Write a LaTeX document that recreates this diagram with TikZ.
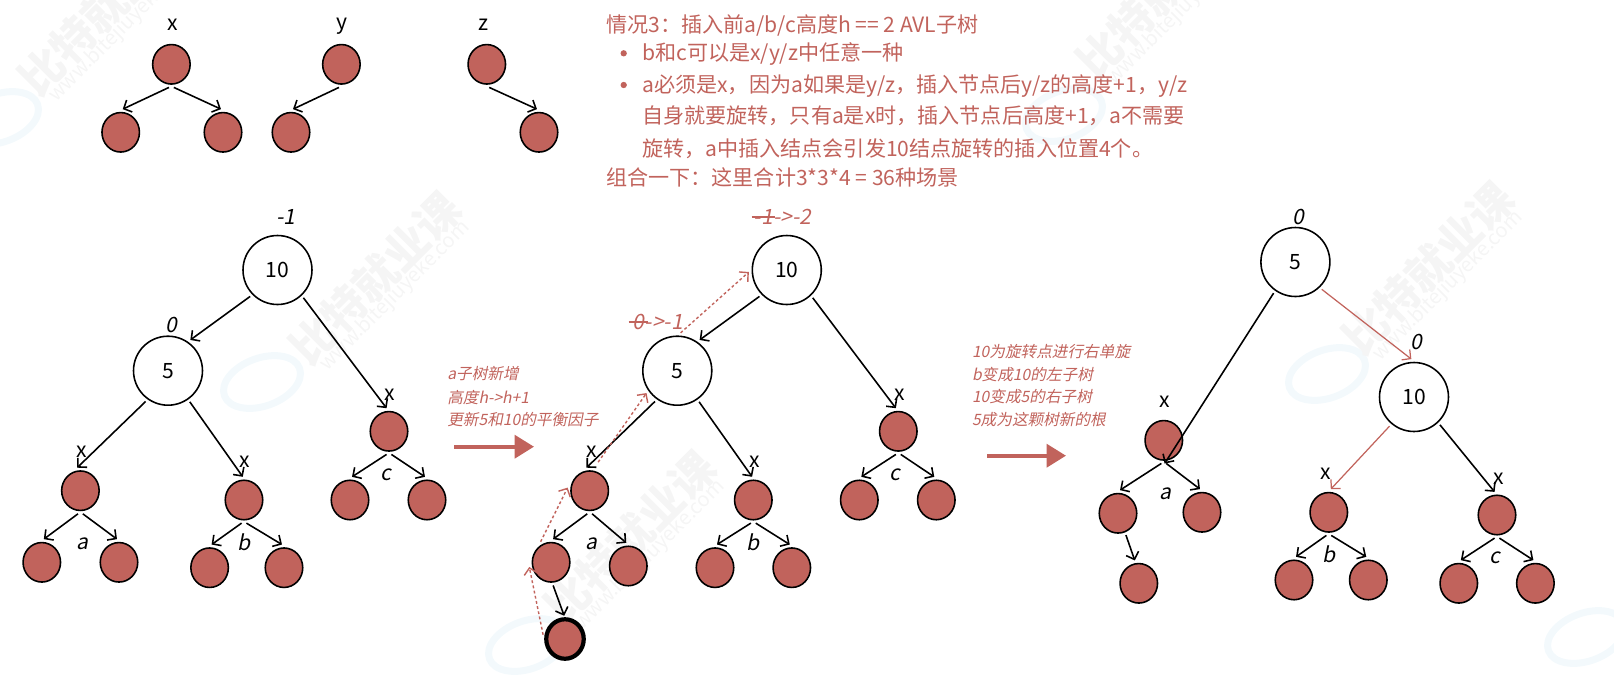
\documentclass[tikz,border=0pt]{standalone}
\usepackage{fontspec}
\setmainfont{Noto Sans CJK SC}
\newfontfamily\slantfont[FakeSlant=0.2]{Noto Sans CJK SC}
\usetikzlibrary{arrows.meta,positioning,shapes.geometric}
\definecolor{nodered}{HTML}{C1635C}
\definecolor{wmgray}{HTML}{F5F5F5}
\definecolor{ringblue}{HTML}{F3F9FC}
\tikzset{
  ball/.style={ellipse,draw,fill=nodered,line width=0.9pt,minimum width=0.75cm,minimum height=0.79cm,inner sep=0pt,outer sep=2pt},
  bigball/.style={circle,draw,fill=white,line width=0.9pt,minimum size=1.38cm,inner sep=0pt,outer sep=2pt,font=\fontsize{12}{14}\selectfont},
  link/.style={->,line width=0.9pt},
  redlink/.style={->,line width=0.7pt,draw=nodered},
  trail/.style={->,line width=0.8pt,draw=nodered,dash pattern=on 1.6pt off 1.4pt},
  stepline/.style={-{Triangle[length=11pt,width=13pt]},line width=2.2pt,draw=nodered},
  tag/.style={inner sep=0pt,font=\fontsize{12}{14}\selectfont},
  facttag/.style={inner sep=0pt,font=\fontsize{12}{14}\selectfont\slantfont},
  flipped/.style={inner sep=0pt,text=nodered,font=\fontsize{12}{14}\selectfont\slantfont},
  note/.style={anchor=base west,inner sep=0pt,text=nodered,font=\fontsize{12}{14}\selectfont},
  sidenote/.style={anchor=base west,inner sep=0pt,text=nodered,font=\fontsize{8.9}{11}\selectfont\slantfont},
  dot/.style={circle,fill=nodered,inner sep=0pt,minimum size=3.6pt},
  wmark/.style={rotate=45,inner sep=0pt,text=wmgray,font=\fontsize{25}{28}\selectfont\bfseries},
  wurl/.style={rotate=45,inner sep=0pt,text=wmgray,font=\fontsize{11.5}{13}\selectfont},
  ghost/.style={draw=ringblue,line width=4pt}
}
\newcommand{\twokids}[3]{
  \draw[link] (#1.264) -- (#2.85);
  \draw[link] (#1.276) -- (#3.95);
}
% the tree before the rotation, shared by the first two steps
\newcommand{\basetree}[4]{
  \node[bigball] (#1ten) at (277.5,270) {10};
  \node[bigball] (#1five) at (168,370.7) {5};
  \node[ball] (#1a) at (80.4,490.7) {};
  \node[ball] (#1al) at (41.8,562.3) {};
  \node[ball] (#1ar) at (119,#2) {};
  \node[ball] (#1b) at (244,500) {};
  \node[ball] (#1bl) at (#3,567.7) {};
  \node[ball] (#1br) at (#4,567.7) {};
  \node[ball] (#1c) at (389,431.3) {};
  \node[ball] (#1cl) at (350,500) {};
  \node[ball] (#1cr) at (427,500) {};
  \node[tag] (#1xa) at (82,452) {x};
  \node[tag] (#1xb) at (245,461.7) {x};
  \node[tag] (#1xc) at (390,395) {x};
  \node[facttag] (#1la) at (82,543.3) {a};
  \node[facttag] (#1lb) at (244,542) {b};
  \node[facttag] (#1lc) at (386,474.3) {c};
  \draw[link] (#1ten.224) -- (#1five.54);
  \draw[link] (#1ten.-47) -- (#1c.96);
  \draw[link] (#1five.234) -- (#1a.98);
  \draw[link] (#1five.-55) -- (#1b.93);
  \twokids{#1a}{#1al}{#1ar}
  \twokids{#1b}{#1bl}{#1br}
  \twokids{#1c}{#1cl}{#1cr}
}
\begin{document}
\begin{tikzpicture}[x=0.02cm,y=-0.02cm,>={Straight Barb[length=3.6pt,width=7.5pt]}]
  \useasboundingbox (0,0) rectangle (1614,674);
  % faint marks behind everything
  \foreach \rx/\ry in {0/118,262/382,527/645,1064/115,1327/374,1586/637} {
    \draw[ghost,rotate around={20:(\rx,\ry)}] (\rx,\ry) ellipse (40 and 24);
  }
  \foreach \wx/\wy [count=\i] in {104/9,375/278,630/537,1162/-8,1428/268} {
    \node[wmark] (wm\i) at (\wx,\wy) {比特就业课};
    \node[wurl] (url\i) at (\wx+20,\wy+18) {www.bitejiuyeke.com};
  }
  % the three shapes of a subtree
  \node[ball] (xroot) at (171.4,64.3) {};
  \node[ball] (xl) at (120.7,132.3) {};
  \node[ball] (xr) at (223,132.3) {};
  \node[ball] (yroot) at (341.4,64.3) {};
  \node[ball] (yl) at (291,132.3) {};
  \node[ball] (zroot) at (486.8,64.3) {};
  \node[ball] (zr) at (539,132.3) {};
  \node[tag] (xname) at (172.5,25) {x};
  \node[tag] (yname) at (342,26) {y};
  \node[tag] (zname) at (484,25) {z};
  \twokids{xroot}{xl}{xr}
  \draw[link] (yroot.264) -- (yl.85);
  \draw[link] (zroot.276) -- (zr.95);
  % case text
  \node[note] (case) at (606,32) {情况3：插入前a/b/c高度h == 2 AVL子树};
  \node[dot] (dota) at (623.7,53.3) {};
  \node[note] (linea) at (642,60.5) {b和c可以是x/y/z中任意一种};
  \node[dot] (dotb) at (623.7,85) {};
  \node[note] (lineb) at (642,92.5) {a必须是x，因为a如果是y/z，插入节点后y/z的高度+1，y/z};
  \node[note] (linec) at (642,123.5) {自身就要旋转，只有a是x时，插入节点后高度+1，a不需要};
  \node[note] (lined) at (642,156) {旋转，a中插入结点会引发10结点旋转的插入位置4个。};
  \node[note] (linee) at (606,185) {组合一下：这里合计3*3*4 = 36种场景};
  % before the insert
  \basetree{p}{562.3}{209.6}{284}
  \node[facttag] (pfone) at (286,217) {-1};
  \node[facttag] (pfzero) at (171,325) {0};
  % after the insert
  \begin{scope}[shift={(509.3,0)}]
    \basetree{q}{566}{205.7}{282.5}
    \node[ball,line width=2.4pt] (qnew) at (55.7,639) {};
    \draw[link] (qal.-85) -- (qnew.92);
    \node[flipped] (qfone) at (254,217) {-1};
    \node[flipped,right=0pt of qfone] (qftwo) {->-2};
    \node[flipped] (qfzero) at (129,322) {0};
    \node[flipped,right=0pt of qfzero] (qfthree) {->-1};
    \draw[draw=nodered,line width=0.7pt] ([xshift=-1pt]qfone.west) -- ([xshift=1pt]qfone.east);
    \draw[draw=nodered,line width=0.7pt] ([xshift=-2pt]qfzero.west) -- ([xshift=2pt]qfzero.east);
    \draw[trail] (qnew.169) -- (qal.192);
    \draw[trail] (qal.117) -- (qa.172);
    \draw[trail,shorten <=4pt] (qa.79) -- (qfive.216);
    \draw[trail] (qfive.85) -- (qten.183);
  \end{scope}
  % step one
  \node[sidenote] (sidea) at (447,379.5) {a子树新增};
  \node[sidenote] (sideb) at (447,403) {高度h->h+1};
  \node[sidenote] (sidec) at (447,425.5) {更新5和10的平衡因子};
  \coordinate (stepa) at (454,446.7);
  \coordinate (stepb) at (534,446.7);
  \draw[stepline] (stepa) -- (stepb);
  % step two
  \node[sidenote] (sided) at (971.7,357) {10为旋转点进行右单旋};
  \node[sidenote] (sidee) at (971.7,380) {b变成10的左子树};
  \node[sidenote] (sidef) at (971.7,402.5) {10变成5的右子树};
  \node[sidenote] (sideg) at (971.7,425.5) {5成为这颗树新的根};
  \coordinate (stepc) at (987,455.7);
  \coordinate (stepd) at (1066,455.7);
  \draw[stepline] (stepc) -- (stepd);
  % after the rotation
  \node[bigball] (rfive) at (1295.4,262) {5};
  \node[bigball] (rten) at (1414,397) {10};
  \node[ball] (ra) at (1163.8,440.3) {};
  \node[ball] (ral) at (1118,513.3) {};
  \node[ball] (rar) at (1202,512.3) {};
  \node[ball] (rnew) at (1138.8,583.3) {};
  \node[ball] (rb) at (1328.8,512.3) {};
  \node[ball] (rbl) at (1294,580) {};
  \node[ball] (rbr) at (1368.3,580) {};
  \node[ball] (rc) at (1497,515) {};
  \node[ball] (rcl) at (1458.8,583.3) {};
  \node[ball] (rcr) at (1535.4,583.3) {};
  \node[facttag] (rftop) at (1298.3,216.7) {0};
  \node[facttag] (rften) at (1416,341.7) {0};
  \node[tag] (rxa) at (1165,401.7) {x};
  \node[tag] (rxb) at (1325.8,473.3) {x};
  \node[tag] (rxc) at (1498.8,478.3) {x};
  \node[facttag] (rla) at (1165,493.3) {a};
  \node[facttag] (rlb) at (1328.8,554.3) {b};
  \node[facttag] (rlc) at (1494.6,557.7) {c};
  \draw[link] (rfive.235) -- (ra.272);
  \draw[redlink] (rfive.-46) -- (rten.94);
  \draw[redlink] (rten.230) -- (rb.85);
  \draw[link] (rten.-47) -- (rc.96);
  \twokids{ra}{ral}{rar}
  \draw[link] (ral.-70) -- (rnew.100);
  \twokids{rb}{rbl}{rbr}
  \twokids{rc}{rcl}{rcr}
\end{tikzpicture}
\end{document}
